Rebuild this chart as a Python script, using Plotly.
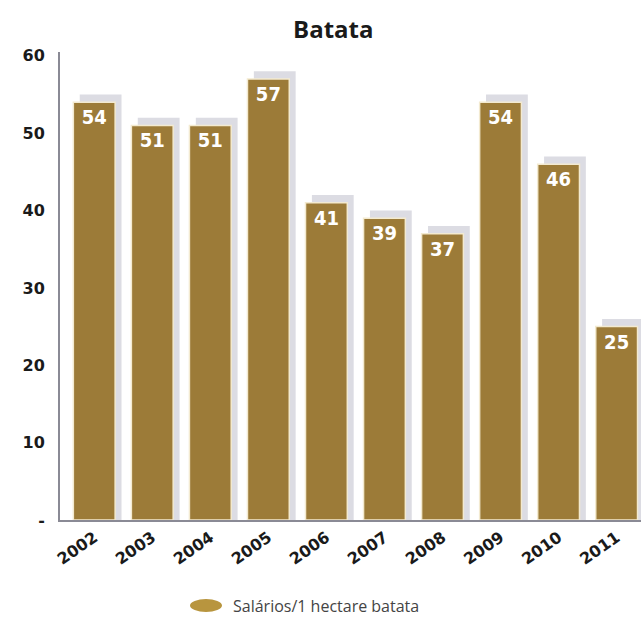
import plotly.graph_objects as go

years = ["2002", "2003", "2004", "2005", "2006", "2007", "2008", "2009", "2010", "2011"]
values = [54, 51, 51, 57, 41, 39, 37, 54, 46, 25]
series_name = "Salários/1 hectare batata"
title = "Batata"
y_tickvals = [0, 10, 20, 30, 40, 50, 60]
y_ticktext = ["-", "10", "20", "30", "40", "50", "60"]

BAR_COLOR = "#9c7b38"
SHADOW_COLOR = "#dcdce3"
BAR_W = 0.72

fig = go.Figure()

# shadow behind the bars (offset up-right)
fig.add_trace(go.Bar(
    x=years, y=[v + 1.0 for v in values],
    width=BAR_W, offset=-BAR_W / 2 + 0.11,
    marker=dict(color=SHADOW_COLOR, line=dict(width=0)),
    hoverinfo="skip", showlegend=False,
))

fig.add_trace(go.Bar(
    x=years, y=values, name=series_name,
    width=BAR_W, offset=-BAR_W / 2,
    marker=dict(color=BAR_COLOR, line=dict(color="#f3ead0", width=1.5)),
    text=[str(v) for v in values],
    textposition="inside", insidetextanchor="end",
    textfont=dict(family="Liberation Sans Narrow, DejaVu Sans Condensed, Arial Narrow", size=20, color="white"),
    texttemplate="<b>%{text}</b>",
    showlegend=False,
))

fig.update_layout(
    width=641, height=624,
    margin=dict(l=60, r=0, t=52, b=104),
    paper_bgcolor="white", plot_bgcolor="white",
    barmode="overlay",
    title=dict(text="<b>" + title + "</b>", x=0.52, xanchor="center", y=0.952, yanchor="middle",
               font=dict(family="Open Sans", size=24, color="#1a1a1a")),
    xaxis=dict(
        range=[-0.59, 9.42], showgrid=False, showline=True, linecolor="#8a8a95", linewidth=2,
        ticks="", tickangle=-35,
        tickfont=dict(family="DejaVu Sans", size=16, color="#1a1a1a", weight="bold"),
    ),
    yaxis=dict(
        range=[0, 60.5], showgrid=False, showline=True, linecolor="#8a8a95", linewidth=2,
        tickvals=y_tickvals, ticktext=y_ticktext, ticks="", zeroline=False,
        ticklabelstandoff=10,
        tickfont=dict(family="DejaVu Sans", size=16, color="#1a1a1a", weight="bold"),
    ),
    showlegend=False,
)

# legend swatch and label
fig.add_shape(type="circle", xref="paper", yref="paper",
              x0=(190 - 60) / 581, x1=(222 - 60) / 581,
              y0=(520 - 612) / 468, y1=(520 - 599) / 468,
              fillcolor="#b8953e", line=dict(width=0))
fig.add_annotation(text=series_name, xref="paper", yref="paper",
                   x=(231 - 60) / 581, y=(520 - 606) / 468, xanchor="left", yanchor="middle",
                   showarrow=False,
                   font=dict(family="Open Sans", size=16, color="#444"))

fig.write_html("out.html")
